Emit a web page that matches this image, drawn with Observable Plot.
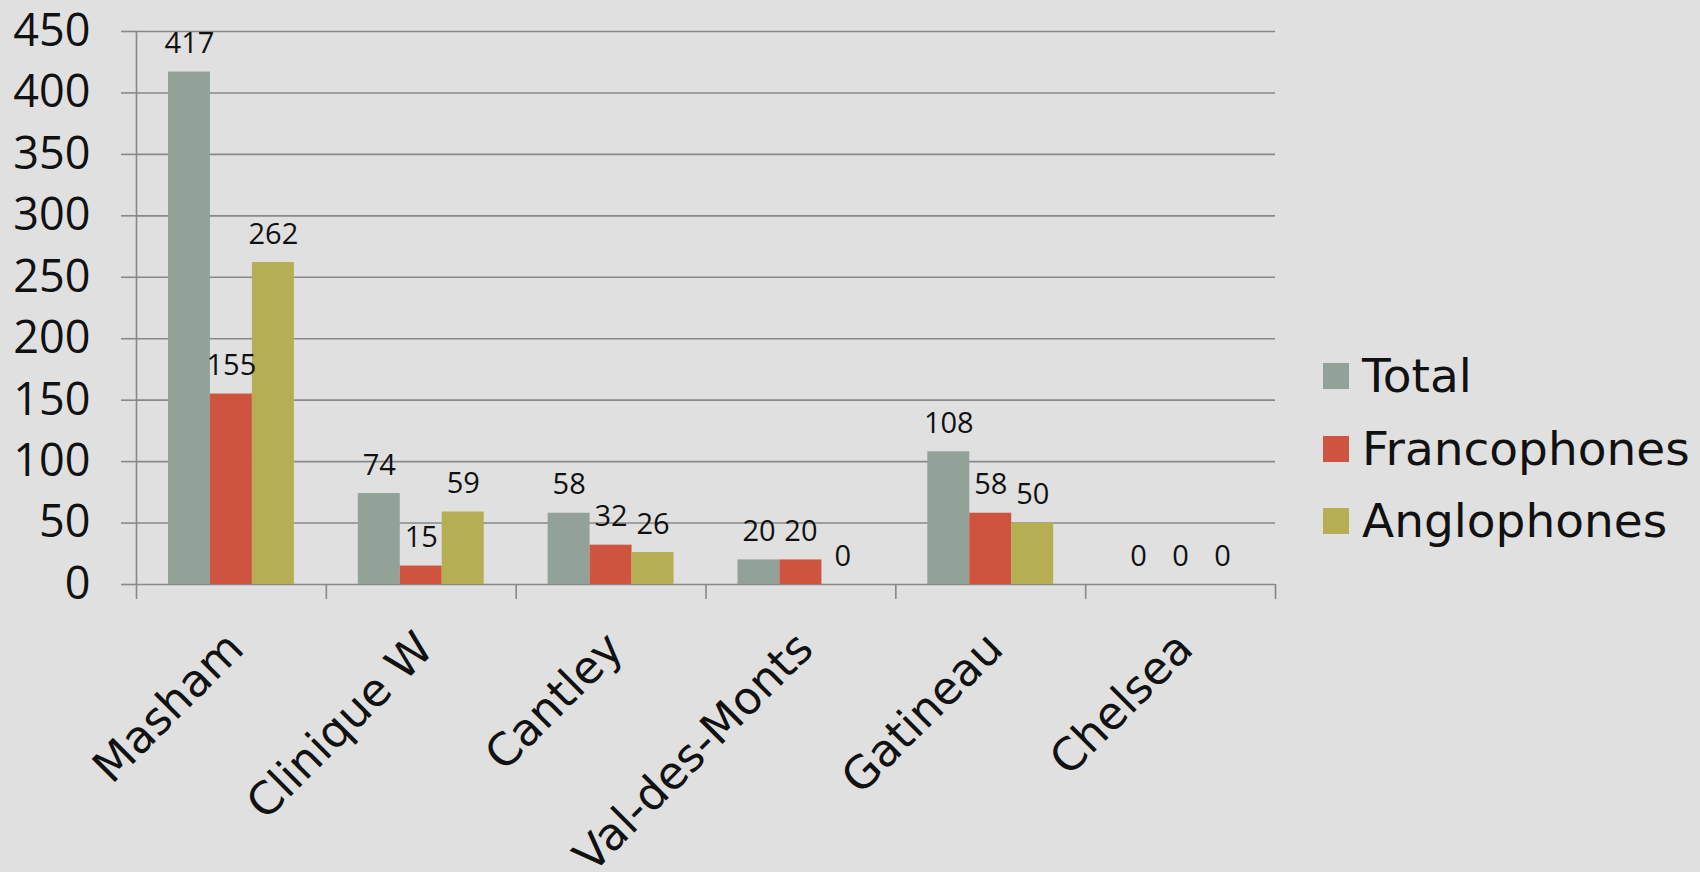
<!DOCTYPE html>
<html>
<head>
<meta charset="utf-8">
<script src="https://cdn.jsdelivr.net/npm/d3@7"></script>
<script src="https://cdn.jsdelivr.net/npm/@observablehq/plot@0.6"></script>
<style>
html, body { margin: 0; padding: 0; background: #e0e0e0; }
#wrap { position: relative; width: 1700px; height: 872px; overflow: hidden; background: #e0e0e0; }
#legend { position: absolute; left: 1323px; top: 340px; font-family: "DejaVu Sans", sans-serif; font-size: 47px; color: #111; }
.row { display: flex; align-items: center; height: 72.5px; line-height: 72.5px; white-space: nowrap; }
.sw { width: 26px; height: 26px; margin-right: 13px; flex: none; }
</style>
</head>
<body>
<div id="wrap"><div id="chart"></div><div id="legend"></div></div>
<script>
// ---- data ----
const categories = ["Masham", "Clinique W", "Cantley", "Val-des-Monts", "Gatineau", "Chelsea"];
const seriesNames = ["Total", "Francophones", "Anglophones"];
const totalValues = [417, 74, 58, 20, 108, 0];
const francoValues = [155, 15, 32, 20, 58, 0];
const angloValues = [262, 59, 26, 0, 50, 0];
const seriesColors = ["#93a299", "#cf543f", "#b5ae53"];
const yTicks = [0, 50, 100, 150, 200, 250, 300, 350, 400, 450];

const seriesValues = [totalValues, francoValues, angloValues];
const rows = [];
categories.forEach((c, i) => {
  seriesNames.forEach((s, k) => {
    rows.push({category: c, i, series: s, value: seriesValues[k][i]});
  });
});

// inner band scale positions the three bars inside each category slot
const inner = d3.scaleBand().domain(seriesNames).range([0, 1]).paddingInner(0).paddingOuter(0.762);
const bx1 = d => d.i + inner(d.series);
const bx2 = d => d.i + inner(d.series) + inner.bandwidth();
const bxm = d => d.i + inner(d.series) + inner.bandwidth() / 2;

const gridColor = "#888888";

const chart = Plot.plot({
  width: 1700,
  height: 872,
  marginLeft: 136,
  marginRight: 425,
  marginTop: 31,
  marginBottom: 288,
  style: {background: "transparent", overflow: "visible", color: "#111"},
  x: {domain: [0, categories.length]},
  y: {domain: [0, 450]},
  color: {domain: seriesNames, range: seriesColors},
  marks: [
    Plot.ruleY(yTicks, {stroke: gridColor, strokeWidth: 1.6}),
    Plot.ruleX([0], {y1: 0, y2: 450, stroke: gridColor, strokeWidth: 1.6}),
    Plot.axisX({ticks: d3.range(categories.length + 1), tickSize: 15, tickFormat: () => "", stroke: gridColor, strokeWidth: 1.6}),
    Plot.axisY({ticks: yTicks, tickSize: 15, tickPadding: 31, fontSize: 45, fontFamily: "Open Sans", stroke: gridColor, strokeWidth: 1.6, color: "#111", label: null}),
    Plot.rectY(rows, {x1: bx1, x2: bx2, y: "value", fill: "series"}),
    Plot.text(rows, {x: bxm, y: "value", text: d => String(d.value), lineAnchor: "bottom", dy: -19, fontSize: 29, fontFamily: "Open Sans", fill: "#111"}),
    Plot.text(categories, {x: (d, i) => i + 0.5, text: d => d, frameAnchor: "bottom", rotate: -45, textAnchor: "end", lineAnchor: "top", dx: -8, dy: 44, fontSize: 45, fontFamily: "DejaVu Sans", fill: "#111"})
  ]
});
document.getElementById("chart").appendChild(chart);

const legend = document.getElementById("legend");
seriesNames.forEach((s, k) => {
  const row = document.createElement("div");
  row.className = "row";
  const sw = document.createElement("div");
  sw.className = "sw";
  sw.style.background = seriesColors[k];
  const t = document.createElement("span");
  t.textContent = s;
  row.appendChild(sw);
  row.appendChild(t);
  legend.appendChild(row);
});
</script>
</body>
</html>
